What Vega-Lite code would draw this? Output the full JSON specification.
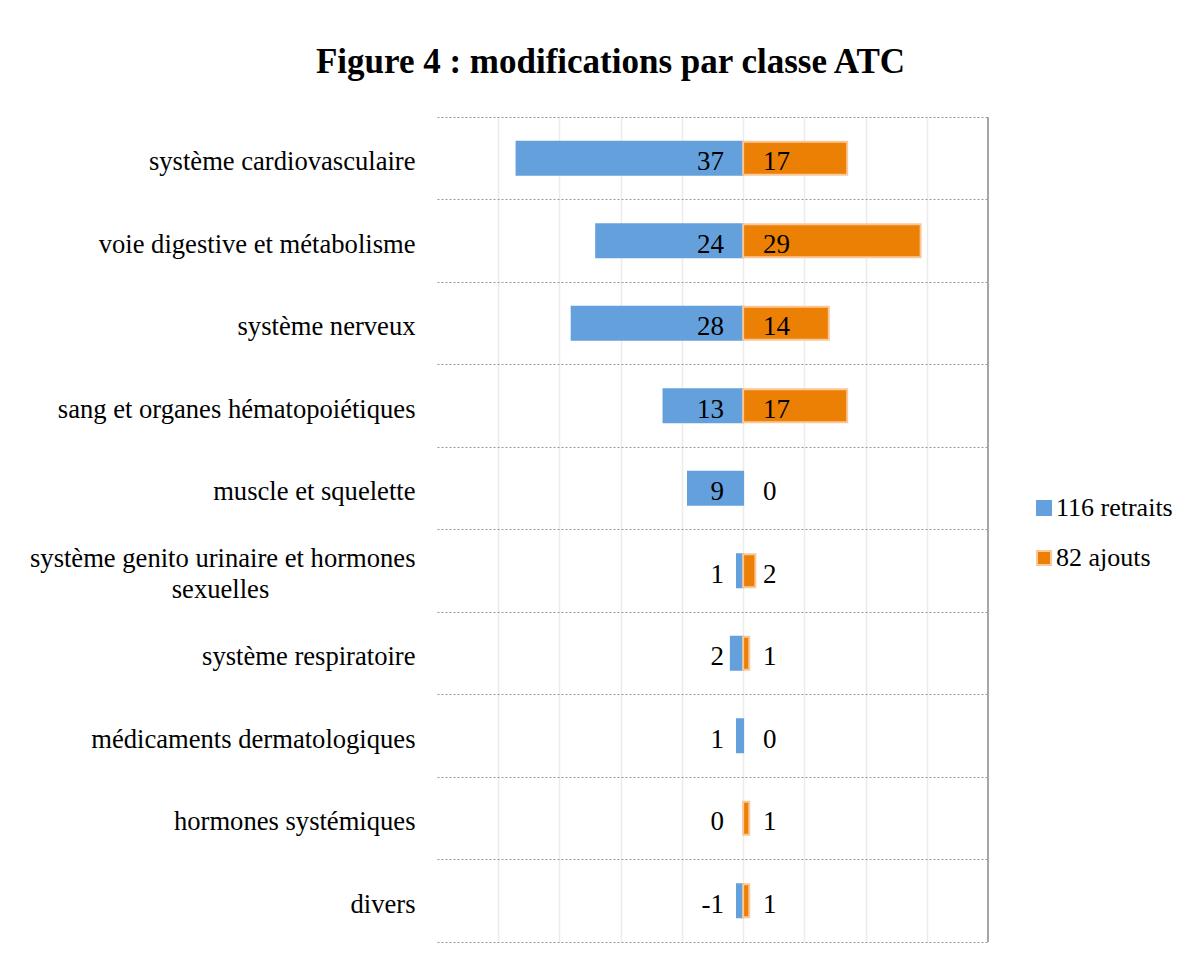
{
  "$schema": "https://vega.github.io/schema/vega-lite/v6.json",
  "autosize": "none",
  "width": 551,
  "height": 825,
  "padding": {"left": 437, "top": 117, "right": 210, "bottom": 26},
  "background": "white",
  "title": {
    "text": "Figure 4 : modifications par classe ATC",
    "font": "Liberation Serif",
    "fontSize": 35,
    "fontWeight": "bold",
    "color": "black",
    "anchor": "middle",
    "frame": "group",
    "dx": -102,
    "offset": 36
  },
  "data": {
    "values": [
      {"categorie": "système cardiovasculaire", "type": "116 retraits", "valeur": -37, "etiquette": "37"},
      {"categorie": "système cardiovasculaire", "type": "82 ajouts", "valeur": 17, "etiquette": "17"},
      {"categorie": "voie digestive et métabolisme", "type": "116 retraits", "valeur": -24, "etiquette": "24"},
      {"categorie": "voie digestive et métabolisme", "type": "82 ajouts", "valeur": 29, "etiquette": "29"},
      {"categorie": "système nerveux", "type": "116 retraits", "valeur": -28, "etiquette": "28"},
      {"categorie": "système nerveux", "type": "82 ajouts", "valeur": 14, "etiquette": "14"},
      {"categorie": "sang et organes hématopoiétiques", "type": "116 retraits", "valeur": -13, "etiquette": "13"},
      {"categorie": "sang et organes hématopoiétiques", "type": "82 ajouts", "valeur": 17, "etiquette": "17"},
      {"categorie": "muscle et squelette", "type": "116 retraits", "valeur": -9, "etiquette": "9"},
      {"categorie": "muscle et squelette", "type": "82 ajouts", "valeur": 0, "etiquette": "0"},
      {"categorie": "système genito urinaire et hormones sexuelles", "type": "116 retraits", "valeur": -1, "etiquette": "1"},
      {"categorie": "système genito urinaire et hormones sexuelles", "type": "82 ajouts", "valeur": 2, "etiquette": "2"},
      {"categorie": "système respiratoire", "type": "116 retraits", "valeur": -2, "etiquette": "2"},
      {"categorie": "système respiratoire", "type": "82 ajouts", "valeur": 1, "etiquette": "1"},
      {"categorie": "médicaments dermatologiques", "type": "116 retraits", "valeur": -1, "etiquette": "1"},
      {"categorie": "médicaments dermatologiques", "type": "82 ajouts", "valeur": 0, "etiquette": "0"},
      {"categorie": "hormones systémiques", "type": "116 retraits", "valeur": 0, "etiquette": "0"},
      {"categorie": "hormones systémiques", "type": "82 ajouts", "valeur": 1, "etiquette": "1"},
      {"categorie": "divers", "type": "116 retraits", "valeur": -1, "etiquette": "-1"},
      {"categorie": "divers", "type": "82 ajouts", "valeur": 1, "etiquette": "1"}
    ]
  },
  "encoding": {
    "y": {
      "field": "categorie",
      "type": "nominal",
      "sort": ["système cardiovasculaire", "voie digestive et métabolisme", "système nerveux", "sang et organes hématopoiétiques", "muscle et squelette", "système genito urinaire et hormones sexuelles", "système respiratoire", "médicaments dermatologiques", "hormones systémiques", "divers"],
      "scale": {"paddingInner": 0, "paddingOuter": 0},
      "axis": {
        "title": null,
        "labelFont": "Liberation Serif",
        "labelFontSize": 26.6,
        "labelColor": "black",
        "labelPadding": 22,
        "labelLimit": 600,
        "labelLineHeight": 31,
        "labelOffset": {"condition": {"test": "datum.value == 'système genito urinaire et hormones sexuelles'", "value": -12}, "value": 4},
        "labelExpr": "datum.value == 'système genito urinaire et hormones sexuelles' ? ['système genito urinaire et hormones', 'sexuelles\u2003\u2003\u2003\u2003\u2003\u2002\u200b'] : datum.value",
        "ticks": false,
        "domain": false,
        "grid": true,
        "bandPosition": 0,
        "gridColor": "#9a9a9a",
        "gridDash": [2, 2],
        "gridWidth": 1.2
      }
    }
  },
  "layer": [
    {
      "transform": [{"filter": "datum.valeur != 0"}],
      "mark": {"type": "bar", "height": {"band": 0.4}, "strokeWidth": 2},
      "encoding": {
        "x": {
          "field": "valeur",
          "type": "quantitative",
          "scale": {"domain": [-50, 40], "nice": false, "zero": false},
          "axis": {
            "title": null,
            "labels": false,
            "ticks": false,
            "values": [-40, -30, -20, -10, 0, 10, 20, 30],
            "grid": true,
            "gridColor": "#ececec",
            "gridWidth": 1.5,
            "domain": true,
            "domainColor": "#9a9a9a",
            "domainDash": [2, 2],
            "domainWidth": 1.2
          }
        },
        "color": {
          "field": "type",
          "type": "nominal",
          "scale": {"domain": ["116 retraits", "82 ajouts"], "range": ["#64a0dc", "#ec8004"]},
          "legend": {
            "title": null,
            "orient": "none",
            "legendX": 594,
            "legendY": 378,
            "symbolType": "square",
            "symbolSize": 196,
            "symbolStrokeWidth": 2,
            "labelFont": "Liberation Serif",
            "labelFontSize": 26,
            "labelColor": "black",
            "labelOffset": -1,
            "rowPadding": 24
          }
        },
        "stroke": {
          "field": "type",
          "type": "nominal",
          "scale": {"domain": ["116 retraits", "82 ajouts"], "range": ["#64a0dc", "#f9c79a"]},
          "legend": null
        }
      }
    },
    {
      "mark": {"type": "rule", "color": "#a6a6a6", "strokeWidth": 2},
      "encoding": {"x": {"datum": 40}, "y": null}
    },
    {
      "transform": [{"filter": "datum.type == '116 retraits'"}],
      "mark": {"type": "text", "align": "right", "dx": -19, "font": "Liberation Serif", "fontSize": 27, "color": "black", "baseline": "middle", "dy": 4},
      "encoding": {"x": {"datum": 0}, "text": {"field": "etiquette"}}
    },
    {
      "transform": [{"filter": "datum.type == '82 ajouts'"}],
      "mark": {"type": "text", "align": "left", "dx": 20, "font": "Liberation Serif", "fontSize": 27, "color": "black", "baseline": "middle", "dy": 4},
      "encoding": {"x": {"datum": 0}, "text": {"field": "etiquette"}}
    }
  ],
  "config": {"view": {"stroke": null}, "legend": {"labelFont": "Liberation Serif"}}
}
